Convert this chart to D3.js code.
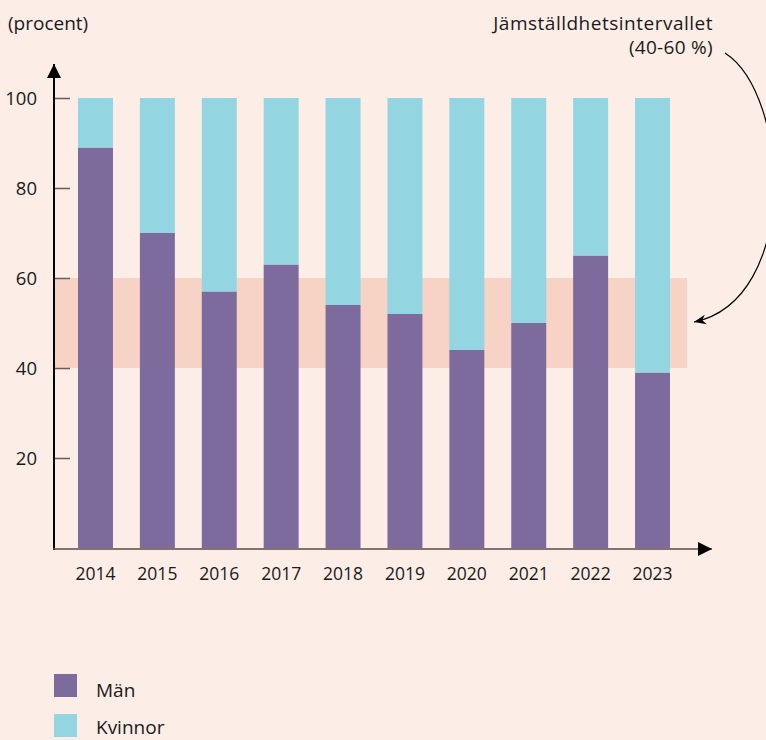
<!DOCTYPE html>
<html><head><meta charset="utf-8">
<script src="https://cdn.jsdelivr.net/npm/d3@7"></script>
<style>
html,body{margin:0;padding:0;background:#fcede6;}
svg{display:block;font-family:"Open Sans",sans-serif;}
</style></head>
<body>
<svg id="c" width="766" height="740"></svg>
<script>
const years = ["2014","2015","2016","2017","2018","2019","2020","2021","2022","2023"];
const man = [89,70,57,63,54,52,44,50,65,39];
const kvinnor = [11,30,43,37,46,48,56,50,35,61];
const yTicks = [20,40,60,80,100];
const band = [40,60];
const seriesNames = ["Män","Kvinnor"];
const colors = ["#7d6b9e","#93d5e1"];
const FONT = "'Open Sans', sans-serif";
const TXT = "#1a1a1a";

const svg = d3.select("#c");
svg.append("rect").attr("width",766).attr("height",740).attr("fill","#fcede6");

const x = d3.scaleBand().domain(years).range([78,670]).paddingInner(0.435).paddingOuter(0);
const y = d3.scaleLinear().domain([0,100]).range([548,98]);

// equality band
svg.append("rect").attr("x",54).attr("width",687-54)
  .attr("y",y(band[1])).attr("height",y(band[0])-y(band[1])).attr("fill","#f7d3c6");

// stacked bars
const data = years.map((yr,i)=>({year:yr, "Män":man[i], "Kvinnor":kvinnor[i]}));
const stack = d3.stack().keys(seriesNames)(data);
stack.forEach((s,si)=>{
  svg.append("g").selectAll("rect").data(s).join("rect")
    .attr("x",d=>x(d.data.year)).attr("width",x.bandwidth())
    .attr("y",d=>y(d[1])).attr("height",d=>y(d[0])-y(d[1]))
    .attr("fill",colors[si]);
});

// y ticks
const yg = svg.append("g").attr("transform","translate(54,0)");
yg.call(d3.axisRight(y).tickValues(yTicks).tickSize(16).tickFormat(""));
yg.select(".domain").remove();
yg.selectAll("line").attr("stroke","#6e5a5a").attr("stroke-width",1.5);
svg.append("g").selectAll("text").data(yTicks).join("text")
  .attr("x",37).attr("y",d=>y(d)+7).attr("text-anchor","end")
  .attr("font-size",18.5).attr("fill",TXT).text(d=>d);

// x labels
const xg = svg.append("g").attr("transform","translate(0,580)");
xg.call(d3.axisBottom(x).tickSize(0).tickPadding(0));
xg.select(".domain").remove();
xg.selectAll("text").attr("dy",0).attr("font-size",17.5).attr("fill",TXT).attr("font-family",FONT);

// axes lines with arrows
const defs = svg.append("defs");
defs.append("marker").attr("id","ah").attr("viewBox","0 0 10 10").attr("refX",10).attr("refY",5)
  .attr("markerWidth",14).attr("markerHeight",14).attr("markerUnits","userSpaceOnUse").attr("orient","auto")
  .append("path").attr("d","M0,0 L10,5 L0,10 Z").attr("fill","#000");
svg.append("line").attr("x1",54).attr("x2",54).attr("y1",550).attr("y2",64)
  .attr("stroke","#000").attr("stroke-width",2).attr("marker-end","url(#ah)");
svg.append("line").attr("x1",53).attr("x2",712).attr("y1",549).attr("y2",549)
  .attr("stroke","#5a4a4a").attr("stroke-width",1.5).attr("marker-end","url(#ah)");

// title
svg.append("text").attr("x",8).attr("y",30).attr("font-size",19).attr("fill",TXT).text("(procent)");

// annotation
svg.append("text").attr("x",713).attr("y",30).attr("text-anchor","end").attr("font-size",19)
  .attr("letter-spacing",0.5).attr("fill",TXT).text("Jämställdhetsintervallet");
svg.append("text").attr("x",713).attr("y",54).attr("text-anchor","end").attr("font-size",19)
  .attr("letter-spacing",0.3).attr("fill",TXT).text("(40-60 %)");
defs.append("marker").attr("id","ah2").attr("viewBox","0 0 10 10").attr("refX",10).attr("refY",5)
  .attr("markerWidth",12).attr("markerHeight",12).attr("markerUnits","userSpaceOnUse").attr("orient","auto")
  .append("path").attr("d","M0,1 L10,5 L0,9 L3,5 Z").attr("fill","#000");
svg.append("path").attr("d","M725,53 C790,95 800,300 694,322").attr("fill","none")
  .attr("stroke","#000").attr("stroke-width",1.2).attr("marker-end","url(#ah2)");

// legend
const lg = svg.append("g");
seriesNames.forEach((n,i)=>{
  lg.append("rect").attr("x",54).attr("y",674+i*40).attr("width",23).attr("height",23).attr("fill",colors[i]);
  lg.append("text").attr("x",96).attr("y",697+i*37).attr("font-size",19).attr("fill",TXT).text(n);
});
</script>
</body></html>
